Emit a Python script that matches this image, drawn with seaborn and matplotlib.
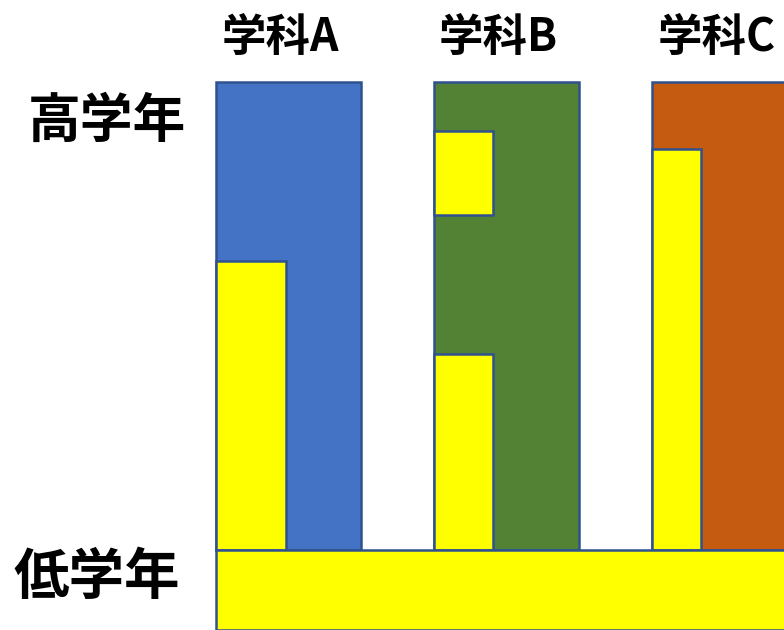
import matplotlib
matplotlib.use("Agg")
import matplotlib.pyplot as plt
import seaborn as sns
import pandas as pd

# departments and their upper-grade column (0-100 scale)
depts = ["学科A", "学科B", "学科C"]
dept_colors = ["#4472C4", "#548235", "#C55A11"]
column_top = [100, 100, 100]

# yellow segments inside each column: (dept index, bottom, top, width share)
seg_dept = [0, 1, 1, 2]
seg_bottom = [0, 0, 71.7, 0]
seg_top = [61.9, 41.9, 89.6, 85.7]
seg_width = [0.32, 0.27, 0.27, 0.224]

# lower-grade band under all columns
band_bottom = -17
band_top = 0

row_labels = ["高学年", "低学年"]

sns.set_theme(style="white")
plt.rcParams['font.family'] = ['Noto Sans CJK JP', 'DejaVu Sans']

edge = "#2F528F"
bar_w = 0.664
yellow = "#FFFF00"

fig = plt.figure(figsize=(7.84, 6.30), dpi=100)
ax = fig.add_axes([215 / 784, 0, 569 / 784, 550 / 630])

df = pd.DataFrame({"dept": depts, "top": column_top})
sns.barplot(data=df, x="dept", y="top", hue="dept", palette=dept_colors,
            width=bar_w, edgecolor=edge, linewidth=1.8, saturation=1,
            legend=False, ax=ax)

# yellow segments, left aligned with their column
for d, b, t, w in zip(seg_dept, seg_bottom, seg_top, seg_width):
    ax.bar(d - bar_w / 2, t - b, bottom=b, width=w, align="edge",
           color=yellow, edgecolor=edge, linewidth=1.8, zorder=3)

# bottom band
ax.bar(-bar_w / 2, band_top - band_bottom, bottom=band_bottom, width=10,
       align="edge", color=yellow, edgecolor=edge, linewidth=1.8, zorder=3)

ax.set_xlim(-bar_w / 2 - 0.005, 2.272)
ax.set_ylim(band_bottom, 100.5)
ax.axis("off")

for i, name in enumerate(depts):
    ax.annotate(name, xy=(i, 1), xycoords=ax.get_xaxis_transform(),
                xytext=(-6, 30), textcoords="offset points",
                ha="center", va="center", fontsize=32, fontweight="bold",
                color="black")

fig.text(107 / 784, 1 - 121 / 630, row_labels[0], ha="center", va="center",
         fontsize=38, fontweight="bold", color="black")
fig.text(97 / 784, 1 - 578 / 630, row_labels[1], ha="center", va="center",
         fontsize=40, fontweight="bold", color="black")

fig.savefig("out.png", dpi=100)
